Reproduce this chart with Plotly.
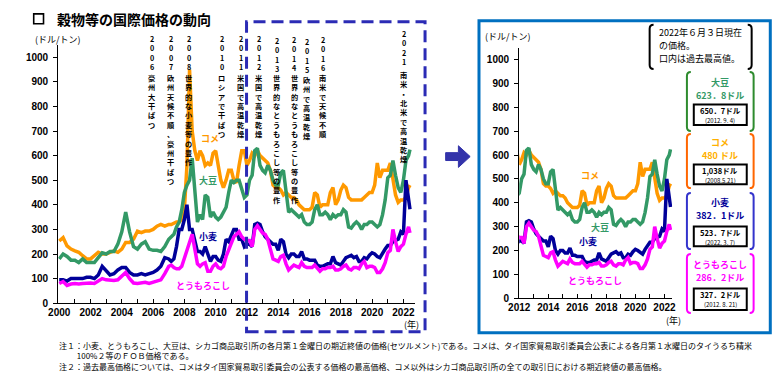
import plotly.graph_objects as go

W, H = 781, 375
JP = "Noto Sans CJK JP"
NUM = "Liberation Sans"

# ---------------- data ----------------
# quarterly 2000-2006, bimonthly 2007-2022, last point = 2022-06-03
dates = ([f"{y}-{m:02d}-01" for y in range(2000, 2007) for m in (1, 4, 7, 10)]
         + [f"{y}-{m:02d}-01" for y in range(2007, 2022) for m in (1, 3, 5, 7, 9, 11)]
         + ["2022-01-01", "2022-03-01", "2022-05-01", "2022-06-03"])

rice = [253, 267, 233, 220,  213, 207, 193, 180,  180, 193, 207, 200,  200, 207, 213, 207,
        220, 247, 247, 260,  293, 287, 293, 293,  300, 313, 320, 313,
        320, 320, 325, 330, 330, 340,
        380, 560, 950, 700, 620, 580,
        620, 600, 560, 570, 560, 610,
        620, 560, 500, 470, 500, 540,
        540, 500, 490, 560, 620, 620,
        560, 580, 610, 600, 620, 600,
        590, 580, 570, 540, 480, 470,
        470, 460, 440, 450, 440, 430,
        430, 420, 400, 390, 380, 380,
        380, 390, 450, 440, 390, 400,
        400, 400, 450, 470, 400, 420,
        460, 480, 470, 430, 420, 420,
        420, 420, 420, 430, 440, 450,
        450, 480, 570, 510, 540, 540,
        540, 570, 500, 440, 410, 420,
        420, 430, 470, 480]

soy = [180, 200, 190, 175,  175, 165, 180, 165,  165, 165, 185, 205,  200, 210, 210, 240,
       290, 370, 290, 230,  220, 240, 250, 220,  215, 215, 210, 230,
       260, 270, 280, 310, 330, 380,
       450, 480, 500, 590, 450, 330,
       360, 340, 440, 430, 350, 370,
       350, 340, 350, 370, 390, 450,
       500, 490, 500, 500, 470, 430,
       440, 500, 520, 620, 630, 560,
       540, 530, 560, 540, 500, 480,
       480, 530, 540, 440, 370, 380,
       370, 360, 350, 360, 330, 320,
       320, 330, 380, 400, 360, 360,
       370, 360, 340, 360, 350, 360,
       360, 380, 370, 310, 305, 320,
       330, 320, 300, 320, 320, 330,
       330, 320, 310, 320, 360, 420,
       510, 520, 580, 520, 470, 450,
       500, 580, 600, 624]

wheat = [95, 95, 90, 100,  100, 100, 100, 105,  105, 100, 115, 150,  130, 115, 120, 135,
         145, 145, 125, 115,  115, 120, 115, 120,  125, 135, 150, 185,
         180, 170, 180, 230, 300, 300,
         340, 400, 300, 300, 260, 210,
         210, 200, 230, 200, 170, 190,
         190, 175, 170, 200, 260, 250,
         280, 300, 300, 260, 260, 230,
         240, 240, 230, 320, 325, 320,
         290, 270, 260, 250, 240, 240,
         215, 260, 250, 200, 185, 200,
         200, 190, 190, 210, 180, 180,
         175, 175, 175, 155, 150, 150,
         155, 160, 160, 190, 165, 160,
         155, 170, 185, 190, 195, 185,
         190, 170, 170, 185, 180, 195,
         205, 200, 190, 185, 205, 220,
         235, 235, 250, 255, 260, 290,
         280, 500, 420, 382]

corn = [80, 88, 72, 78,  80, 78, 80, 82,  82, 80, 90, 100,  95, 92, 92, 95,
        110, 125, 100, 82,  80, 82, 85, 80,  85, 90, 95, 120,
        150, 155, 145, 140, 140, 150,
        180, 210, 240, 280, 220, 160,
        150, 160, 165, 130, 130, 150,
        160, 145, 140, 150, 190, 220,
        250, 270, 280, 290, 270, 260,
        255, 255, 230, 300, 315, 300,
        285, 280, 260, 220, 180, 175,
        170, 190, 195, 160, 135, 145,
        155, 150, 145, 165, 150, 145,
        145, 145, 155, 140, 130, 140,
        140, 145, 145, 150, 135, 135,
        140, 150, 155, 140, 135, 145,
        145, 140, 160, 170, 145, 150,
        150, 145, 125, 125, 140, 165,
        205, 215, 300, 250, 210, 230,
        240, 280, 310, 286]

series = [("コメ", rice, "#FF9900"), ("大豆", soy, "#339966"),
          ("小麦", wheat, "#000099"), ("とうもろこし", corn, "#FF00FF")]

y_ticks = list(range(0, 1001, 100))
left_years = list(range(2000, 2023))
right_years = list(range(2012, 2023))

# ---------------- helpers ----------------
def px(x):
    return x / W

def py(y):
    return 1 - y / H

annotations = []
shapes = []

def txt(x, y, s, size=9, color="black", family=JP, xanchor="center", yanchor="middle",
        weight="normal", align="center"):
    annotations.append(dict(x=px(x), y=py(y), xref="paper", yref="paper", text=s, showarrow=False,
                            xanchor=xanchor, yanchor=yanchor, align=align, borderpad=0,
                            font=dict(size=size, color=color, family=family, weight=weight)))

def path(points, color, width=2, fill=None, closed=False):
    d = "M " + " L ".join(f"{px(x):.5f},{py(y):.5f}" for x, y in points)
    if closed:
        d += " Z"
    shapes.append(dict(type="path", path=d, xref="paper", yref="paper",
                       line=dict(color=color, width=width), fillcolor=fill))

def rect(x0, y0, x1, y1, color, width=1.5, dash=None):
    shapes.append(dict(type="rect", xref="paper", yref="paper", x0=px(x0), x1=px(x1), y0=py(y1), y1=py(y0),
                       line=dict(color=color, width=width, dash=dash)))

def bracket(x0, y0, x1, y1, color, width=2, r=4):
    d = (f"M {px(x0+r):.5f},{py(y0):.5f} Q {px(x0):.5f},{py(y0):.5f} {px(x0):.5f},{py(y0+r):.5f} "
         f"L {px(x0):.5f},{py(y1-r):.5f} Q {px(x0):.5f},{py(y1):.5f} {px(x0+r):.5f},{py(y1):.5f}")
    d2 = (f"M {px(x1-r):.5f},{py(y0):.5f} Q {px(x1):.5f},{py(y0):.5f} {px(x1):.5f},{py(y0+r):.5f} "
          f"L {px(x1):.5f},{py(y1-r):.5f} Q {px(x1):.5f},{py(y1):.5f} {px(x1-r):.5f},{py(y1):.5f}")
    for dd in (d, d2):
        shapes.append(dict(type="path", path=dd, xref="paper", yref="paper", line=dict(color=color, width=width)))

def vtext(x, y_first, s, size=7.2):
    # vertical writing: one character per line, first character centred at y_first
    txt(x, y_first - 0.65 * size, "<br>".join(s), size=size, yanchor="top", weight="bold")

# ---------------- figure ----------------
fig = go.Figure()
for name, vals, col in series:
    fig.add_trace(go.Scatter(x=dates, y=vals, mode="lines", line=dict(color=col, width=3.5),
                             xaxis="x", yaxis="y", showlegend=False, name=name))
for name, vals, col in series:
    fig.add_trace(go.Scatter(x=dates, y=vals, mode="lines", line=dict(color=col, width=3.5),
                             xaxis="x2", yaxis="y2", showlegend=False, name=name))

axis_common = dict(showgrid=False, zeroline=False, showline=True, linecolor="black", linewidth=1.2,
                   tickfont=dict(family=NUM, size=10, color="black", weight="bold"))

fig.update_layout(
    width=W, height=H, margin=dict(l=0, r=0, t=0, b=0),
    paper_bgcolor="white", plot_bgcolor="white", showlegend=False,
    xaxis=dict(domain=[px(40), px(404)], type="date", range=["1999-12-09", "2022-10-04"],
               tickvals=[f"{y}-01-01" for y in left_years],
               ticktext=[str(y) if y % 2 == 0 else "" for y in left_years],
               ticks="inside", ticklen=4, tickcolor="black", anchor="y", **axis_common),
    yaxis=dict(domain=[py(300), py(38)], range=[0, 1048], tickvals=y_ticks,
               ticks="outside", ticklen=4, tickcolor="black", anchor="x", ticklabelstandoff=3, **axis_common),
    xaxis2=dict(domain=[px(510), px(666)], type="date", range=["2012-01-01", "2022-07-15"],
                tickvals=[f"{y}-01-01" for y in right_years],
                ticktext=[str(y) if y % 2 == 0 else "" for y in right_years],
                ticks="inside", ticklen=4, tickcolor="black", anchor="y2", **axis_common),
    yaxis2=dict(domain=[py(295), py(41)], range=[0, 1047], tickvals=y_ticks,
                ticks="outside", ticklen=4, tickcolor="black", anchor="x2", ticklabelstandoff=3, **axis_common),
)

# title
rect(15, 6, 25, 16, "black", width=1.6)
txt(38, 11, "穀物等の国際価格の動向", size=14, xanchor="left", weight="bold")

# unit labels
txt(40, 32, "(ドル/トン)", size=9)
txt(499, 29, "(ドル/トン)", size=9)
txt(400, 322, "(年)", size=9)
txt(667, 318, "(年)", size=9)

# series labels
for (x, y, s, c) in [(195, 133, "コメ", "#FF9900"), (193, 175, "大豆", "#339966"),
                     (193, 232, "小麦", "#000099"), (188, 282, "とうもろこし", "#FF00FF"),
                     (582, 170, "コメ", "#FF9900"), (592, 223, "大豆", "#339966"),
                     (580, 237, "小麦", "#000099"), (587, 277, "とうもろこし", "#FF00FF")]:
    txt(x, y, s, size=9, color=c, weight="bold")

# vertical event notes
cols = [
    (136, 30, "2006", 70, "豪州大干ばつ"),
    (155, 30, "2007", 70, "欧州天候不順、豪州干ばつ"),
    (173, 30, "2008", 70, "世界的な小麦等の豊作"),
    (207, 30, "2010", 70, "ロシアで干ばつ"),
    (226, 30, "2011", 70, "米国で高温乾燥"),
    (245, 30, "2012", 70, "米国で高温乾燥"),
    (263, 32, "2013", 70, "世界的なとうもろこし等の豊作"),
    (281, 31, "2014", 70, "世界的なとうもろこし等の豊作"),
    (294, 33, "2015", 72, "欧州で高温乾燥"),
    (310, 31, "2016", 70, "南米で天候不順"),
    (393, 25, "2021", 67, "南米・北米で高温乾燥"),
]
for x, yd, yr, yt, s in cols:
    vtext(x, yd, yr)
    vtext(x, yt, s)

# dashed focus box, arrow, right panel frame
rect(232, 14, 414, 329, "#2B2BB5", width=3, dash="12px,6px")
path([(435, 147), (448, 147), (448, 140), (460, 151), (448, 162), (448, 155), (435, 155)],
     "#3333AA", width=1, fill="#3333AA", closed=True)
rect(469, 13, 766, 330, "#0070C0", width=3)

# info box top right
bracket(643, 17, 747, 62, "black", width=2)
for yy, line in [(25, "2022年６月３日現在"), (38, "の価格。"), (51, "口内は過去最高値。")]:
    txt(652, yy, line, size=9, xanchor="left")

# legend boxes
boxes = [
    (65, 125, "#2E8B2E", "#339966", "大豆", "623．8ドル", "650．7ドル", "(2012. 9. 4)", 76, 98, 119),
    (128, 183, "#FF6600", "#FFB000", "コメ", "480 ドル", "1,038ドル", "(2008.5.21)", 137, 159, 179),
    (188, 245, "#3333CC", "#000099", "小麦", "382．1ドル", "523．7ドル", "(2022. 3. 7)", 198, 222, 242),
    (250, 310, "#FF00FF", "#FF00FF", "とうもろこし", "286．2ドル", "327．2ドル", "(2012. 8. 21)", 261, 285, 307),
]
for y0, y1, bc, tc, name, now, high, date, yname, ib0, ib1 in boxes:
    bracket(681, y0, 749, y1, bc, width=2)
    txt(715, yname, name, size=9, color=tc, weight="bold")
    txt(715, yname + 13.2, now, size=9, color=tc, weight="bold")
    rect(688, ib0, 742, ib1, "black", width=2)
    txt(715, ib0 + 6.5, high, size=7.5, weight="bold")
    txt(715, ib0 + 16.5, date, size=6)

# footnotes
txt(40, 336, "注１：小麦、とうもろこし、大豆は、シカゴ商品取引所の各月第１金曜日の期近終値の価格(セツルメント)である。コメは、タイ国家貿易取引委員会公表による各月第１水曜日のタイうるち精米"
    "<br>　　 100%２等のＦＯＢ価格である。"
    "<br>注２：過去最高価格については、コメはタイ国家貿易取引委員会の公表する価格の最高価格、コメ以外はシカゴ商品取引所の全ての取引日における期近終値の最高価格。",
    size=8, xanchor="left", yanchor="top", align="left")

fig.update_layout(annotations=annotations, shapes=shapes)
fig.write_html("out.html")
